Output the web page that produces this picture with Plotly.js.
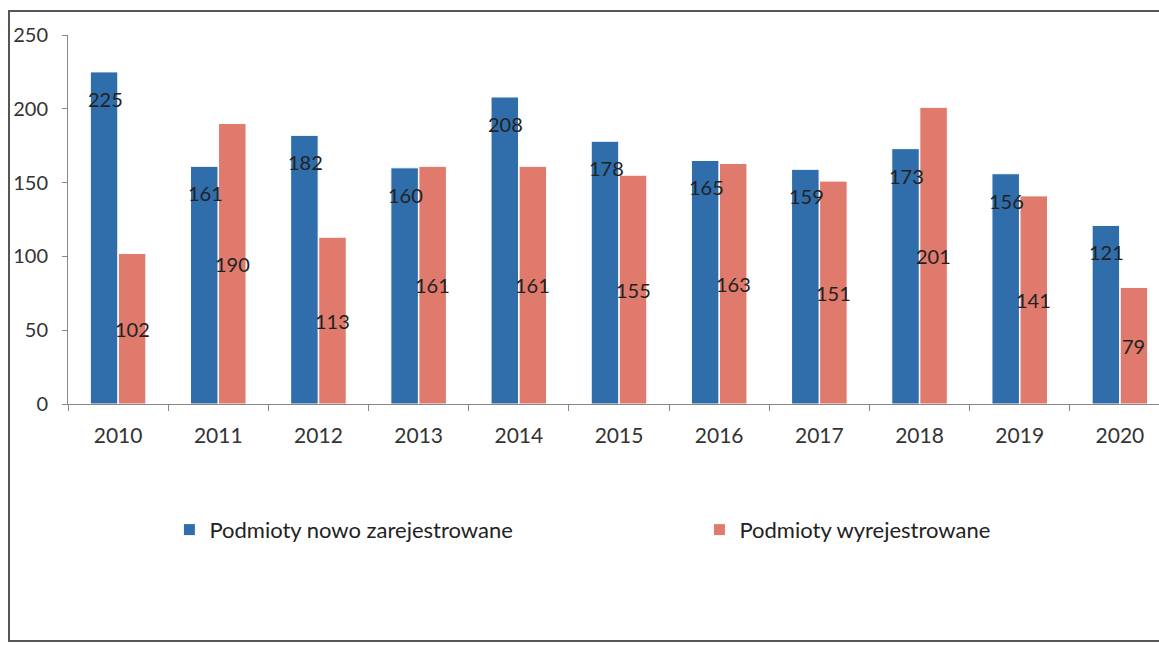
<!DOCTYPE html>
<html>
<head>
<meta charset="utf-8">
<script src="https://cdn.plot.ly/plotly-3.0.1.min.js"></script>
<style>
  html, body { margin: 0; padding: 0; background: #fff; overflow: hidden; }
  #wrap { position: relative; width: 1159px; height: 645px; overflow: hidden; }
  #chart { position: absolute; left: 0; top: 0; width: 1180px; height: 645px; }
  #frame { position: absolute; left: 8px; top: 10px; width: 1170px; height: 628px;
           border: 2px solid #555; pointer-events: none; }
</style>
</head>
<body>
<div id="wrap">
  <div id="chart"></div>
  <div id="frame"></div>
</div>
<script>
const years = ['2010','2011','2012','2013','2014','2015','2016','2017','2018','2019','2020'];
const registered = [225,161,182,160,208,178,165,159,173,156,121];
const deregistered = [102,190,113,161,161,155,163,151,201,141,79];
const nameRegistered = 'Podmioty nowo zarejestrowane';
const nameDeregistered = 'Podmioty wyrejestrowane';
const yTicks = [0,50,100,150,200,250];

const blue = '#2f6dab';
const red = '#e07a6c';
const font = 'Lato, "Open Sans", "Liberation Sans", sans-serif';

const traces = [
  { type: 'bar', x: years, y: registered, name: nameRegistered,
    marker: { color: blue, line: { color: '#fff', width: 1 } }, hoverinfo: 'none', legend: 'legend' },
  { type: 'bar', x: years, y: deregistered, name: nameDeregistered,
    marker: { color: red, line: { color: '#fff', width: 1 } }, hoverinfo: 'none', legend: 'legend2' }
];

const labelFont = { family: font, size: 20, color: '#222' };
const annotations = [];
years.forEach((yr, i) => {
  annotations.push({ x: i, y: registered[i], text: String(registered[i]),
    xref: 'x', yref: 'y', showarrow: false, xshift: -13, yshift: -13,
    yanchor: 'top', font: labelFont });
  annotations.push({ x: i, y: deregistered[i] / 2, text: String(deregistered[i]),
    xref: 'x', yref: 'y', showarrow: false, xshift: 14, yanchor: 'middle',
    font: labelFont });
});

const legendFont = { family: font, size: 22, color: '#222' };
const layout = {
  width: 1180, height: 645,
  margin: { l: 68, r: 10, t: 35, b: 241 },
  paper_bgcolor: '#fff', plot_bgcolor: '#fff',
  barmode: 'group', bargap: 0.44, bargroupgap: 0.02,
  font: { family: font, size: 18, color: '#333' },
  showlegend: true,
  legend: { orientation: 'h', x: 0.092, y: -0.341, xanchor: 'left', yanchor: 'middle',
    itemwidth: 30, font: legendFont, bgcolor: 'rgba(0,0,0,0)' },
  legend2: { orientation: 'h', x: 0.573, y: -0.341, xanchor: 'left', yanchor: 'middle',
    itemwidth: 30, font: legendFont, bgcolor: 'rgba(0,0,0,0)' },
  xaxis: { type: 'category', range: [-0.5, years.length - 0.5], tickson: 'boundaries',
    ticks: 'outside', ticklen: 6, ticklabelstandoff: 13,
    tickcolor: '#888', showline: true, linecolor: '#888', linewidth: 1,
    showgrid: false, tickfont: { family: font, size: 21, color: '#333' } },
  yaxis: { range: [0, 250], tickvals: yTicks, ticks: 'outside', ticklen: 5,
    tickcolor: '#888', showline: true, linecolor: '#888', linewidth: 1,
    showgrid: false, zeroline: false, ticklabelstandoff: 10,
    tickfont: { family: font, size: 20, color: '#333' } },
  annotations: annotations
};

Plotly.newPlot('chart', traces, layout, { displayModeBar: false, staticPlot: true });
</script>
</body>
</html>
